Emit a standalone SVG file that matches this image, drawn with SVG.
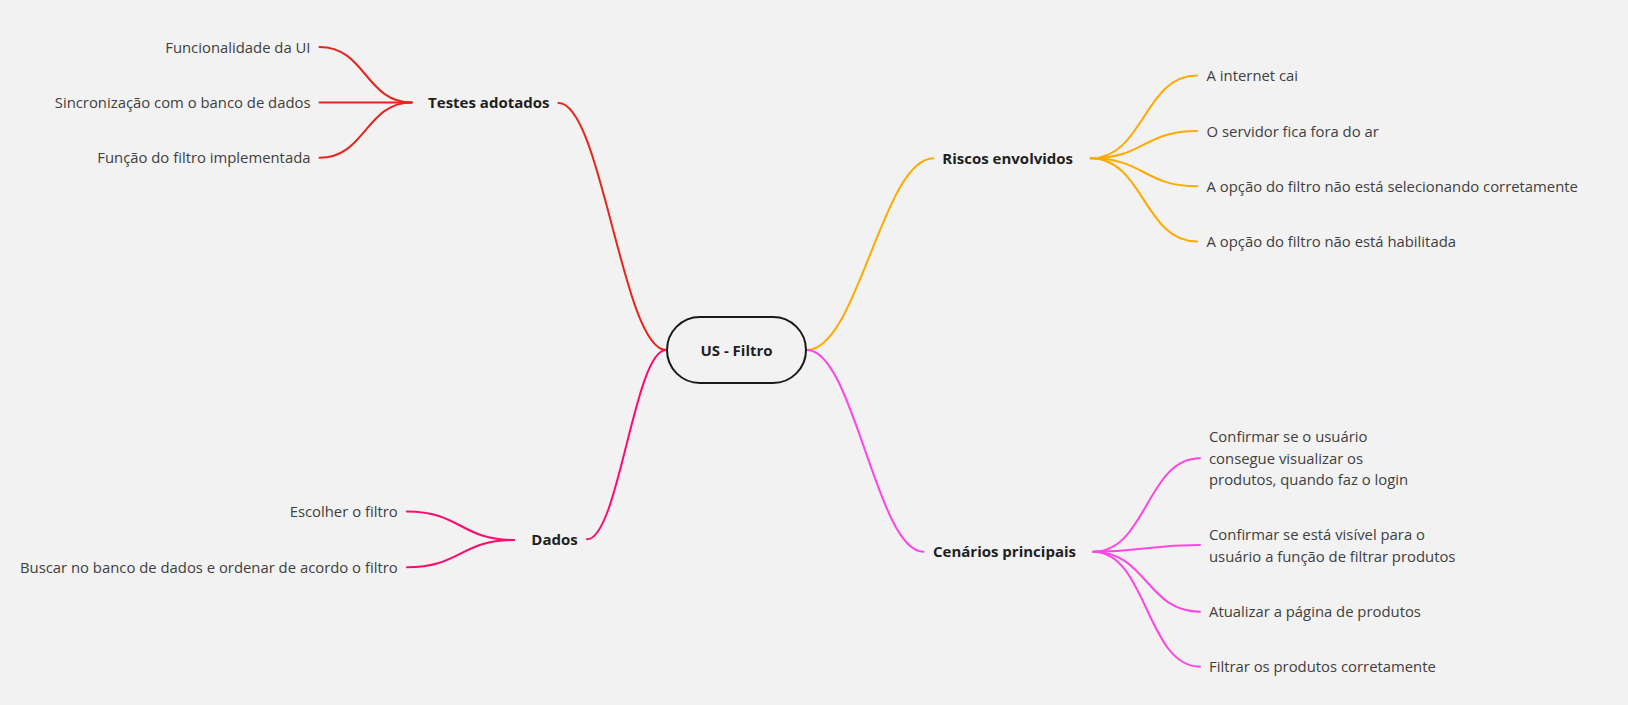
<svg xmlns="http://www.w3.org/2000/svg" width="1628" height="705" viewBox="0 0 1628 705">
<style>
.t{font-family:"Open Sans","Liberation Sans",sans-serif;font-size:14.85px;fill:#404040}
.b{font-family:"Open Sans","Liberation Sans",sans-serif;font-size:15px;font-weight:bold;fill:#1f1f1f;text-anchor:middle}
.e{text-anchor:end}
.c{fill:none;stroke-width:2;stroke-linecap:round}
.red{stroke:#e8241e}
.org{stroke:#ffaa00}
.pnk{stroke:#ff45e6}
.mag{stroke:#ff0a6e}
</style>
<rect x="0" y="0" width="1628" height="705" fill="#f2f2f2"/>
<g id="connectors">
<path class="c red" d="M558.5,103 C601.5,103 623,350 666,350"/>
<path class="c mag" d="M666,350 C634.4,350 618.6,539.3 587,539.3"/>
<path class="c org" d="M807,350 C857.6,350 882.9,158.3 933.5,158.3"/>
<path class="c pnk" d="M807,350 C853.6,350 876.9,551.7 923.5,551.7"/>
<path class="c red" d="M411.7,102.5 C365.6,102.5 365.6,47 319.5,47"/>
<path class="c red" d="M411.7,102.5 L319.5,102.5"/>
<path class="c red" d="M411.7,102.5 C365.6,102.5 365.6,157.8 319.5,157.8"/>
<path class="c org" d="M1090.7,158.3 C1143.8,158.3 1143.8,75.5 1197,75.5"/>
<path class="c org" d="M1090.7,158.3 C1143.8,158.3 1143.8,131 1197,131"/>
<path class="c org" d="M1090.7,158.3 C1143.8,158.3 1143.8,186.2 1197,186.2"/>
<path class="c org" d="M1090.7,158.3 C1143.8,158.3 1143.8,241.5 1197,241.5"/>
<path class="c pnk" d="M1093.3,551.7 C1146.7,551.7 1146.7,458.3 1200,458.3"/>
<path class="c pnk" d="M1093.3,551.7 C1146.7,551.7 1146.7,545 1200,545"/>
<path class="c pnk" d="M1093.3,551.7 C1146.7,551.7 1146.7,611.7 1200,611.7"/>
<path class="c pnk" d="M1093.3,551.7 C1146.7,551.7 1146.7,666.7 1200,666.7"/>
<path class="c mag" d="M514,540 C460.5,540 460.5,511.5 407,511.5"/>
<path class="c mag" d="M514,540 C460.5,540 460.5,567.3 407,567.3"/>
</g>
<g id="root">
<rect x="667" y="317" width="139" height="66" rx="33" ry="33" fill="#f2f2f2" stroke="#1a1a1a" stroke-width="2"/>
<text class="b" x="736.5" y="355.5">US - Filtro</text>
</g>
<g id="testes">
<text class="b" x="488.8" y="108">Testes adotados</text>
</g>
<g id="testes-1"><text class="t e" x="310.5" y="52.5">Funcionalidade da UI</text></g>
<g id="testes-2"><text class="t e" x="310.5" y="108">Sincronização com o banco de dados</text></g>
<g id="testes-3"><text class="t e" x="310.5" y="163.3">Função do filtro implementada</text></g>
<g id="riscos">
<text class="b" x="1007.7" y="164">Riscos envolvidos</text>
</g>
<g id="riscos-1"><text class="t" x="1206.6" y="81">A internet cai</text></g>
<g id="riscos-2"><text class="t" x="1206.6" y="136.5">O servidor fica fora do ar</text></g>
<g id="riscos-3"><text class="t" x="1206.6" y="191.7">A opção do filtro não está selecionando corretamente</text></g>
<g id="riscos-4"><text class="t" x="1206.6" y="247">A opção do filtro não está habilitada</text></g>
<g id="cenarios">
<text class="b" x="1004.5" y="557.2">Cenários principais</text>
</g>
<g id="cenarios-1"><text class="t" x="1209" y="442">Confirmar se o usuário<tspan x="1209" y="463.5">consegue visualizar os</tspan><tspan x="1209" y="485">produtos, quando faz o login</tspan></text></g>
<g id="cenarios-2"><text class="t" x="1209" y="540">Confirmar se está visível para o<tspan x="1209" y="561.5">usuário a função de filtrar produtos</tspan></text></g>
<g id="cenarios-3"><text class="t" x="1209" y="617">Atualizar a página de produtos</text></g>
<g id="cenarios-4"><text class="t" x="1209" y="672">Filtrar os produtos corretamente</text></g>
<g id="dados">
<text class="b" x="554.5" y="545.3">Dados</text>
</g>
<g id="dados-1"><text class="t e" x="397.7" y="517">Escolher o filtro</text></g>
<g id="dados-2"><text class="t e" x="397.7" y="572.8">Buscar no banco de dados e ordenar de acordo o filtro</text></g>
</svg>
